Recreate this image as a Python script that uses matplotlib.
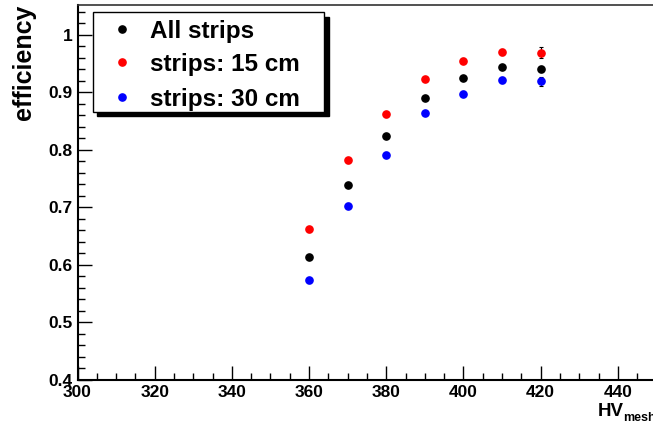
import matplotlib
matplotlib.use("Agg")
import matplotlib.pyplot as plt
from matplotlib.patches import Rectangle
from matplotlib.lines import Line2D
from matplotlib.ticker import MultipleLocator

plt.rcParams['font.family'] = ['Liberation Sans', 'DejaVu Sans']
plt.rcParams['font.weight'] = 'bold'

# data
hv = [360, 370, 380, 390, 400, 410, 420]
eff_all = [0.614, 0.739, 0.825, 0.891, 0.925, 0.944, 0.941]
eff_15 = [0.662, 0.782, 0.862, 0.923, 0.955, 0.970, 0.969]
eff_30 = [0.573, 0.703, 0.792, 0.864, 0.898, 0.921, 0.919]
err_all = [0.003, 0.003, 0.003, 0.003, 0.003, 0.004, 0.005]
err_15 = [0.004, 0.004, 0.004, 0.004, 0.004, 0.005, 0.0095]
err_30 = [0.004, 0.004, 0.004, 0.004, 0.004, 0.005, 0.008]
labels = ["All strips", "strips: 15 cm", "strips: 30 cm"]
colors = ["black", "#ff0000", "#0000ff"]
xticks = [300, 320, 340, 360, 380, 400, 420, 440]

W, H = 653, 425
fig = plt.figure(figsize=(W / 100, H / 100), dpi=100)

def fx(px):
    return px / W

def fy(py):
    return 1 - py / H

# axes run past the right edge of the picture (cropped like the original)
x0, x1 = 77.5, 695.0
ax = fig.add_axes([fx(x0), fy(380), (x1 - x0) / W, (380 - 5) / H])
ax.set_xlim(300, 460)
ax.set_ylim(0.4, 1.052)

for y, e, c in zip([eff_all, eff_15, eff_30], [err_all, err_15, err_30], colors):
    ax.errorbar(hv, y, yerr=e, fmt='o', color=c, ms=5.2, mec=c,
                ecolor='black', elinewidth=0.8, capsize=1.5, capthick=0.8)

ax.set_xticks(xticks)
ax.xaxis.set_minor_locator(MultipleLocator(5))
ax.yaxis.set_major_locator(MultipleLocator(0.1))
ax.yaxis.set_minor_locator(MultipleLocator(0.02))
ax.yaxis.set_major_formatter(plt.FuncFormatter(lambda v, p: f"{v:g}"))
ax.tick_params(which='both', direction='in', top=False, right=False,
               labelsize=12.5, pad=3.5, width=1.0)
ax.tick_params(which='major', length=10)
ax.tick_params(which='minor', length=5)
for lab in ax.get_xticklabels() + ax.get_yticklabels():
    lab.set_fontweight('bold')

ax.spines['left'].set_linewidth(1.5)
ax.spines['bottom'].set_linewidth(1.5)
ax.spines['top'].set_linewidth(1.2)
ax.spines['top'].set_color('#333333')

# axis titles
fig.text(fx(24), fy(5), "efficiency", rotation=90, ha='center', va='top',
         fontsize=18, fontweight='bold')
fig.text(fx(598), fy(416), "HV", ha='left', va='baseline', fontsize=13.5,
         fontweight='bold')
fig.text(fx(623), fy(421), "mesh", ha='left', va='baseline', fontsize=9,
         fontweight='bold')

# legend box with ROOT-style shadow
lx0, ly0, lx1, ly1 = 92.7, 12.3, 324, 111.7
sh = 4.5
fig.patches.append(Rectangle((fx(lx0 + sh), fy(ly1 + sh)), (lx1 - lx0) / W,
                             (ly1 - ly0) / H, transform=fig.transFigure,
                             facecolor='black', edgecolor='black', zorder=5))
fig.patches.append(Rectangle((fx(lx0), fy(ly1)), (lx1 - lx0) / W,
                             (ly1 - ly0) / H, transform=fig.transFigure,
                             facecolor='white', edgecolor='black', lw=1.0,
                             zorder=6))
rows = [29.3, 62.3, 96.7]
for r, lab, c in zip(rows, labels, colors):
    fig.lines.append(Line2D([fx(121.7)], [fy(r)], marker='o', ms=5.2,
                            color=c, transform=fig.transFigure, zorder=7))
    fig.text(fx(150), fy(r), lab, ha='left', va='center_baseline',
             fontsize=17.5, fontweight='bold', zorder=7)

fig.savefig("out.png", dpi=100)
